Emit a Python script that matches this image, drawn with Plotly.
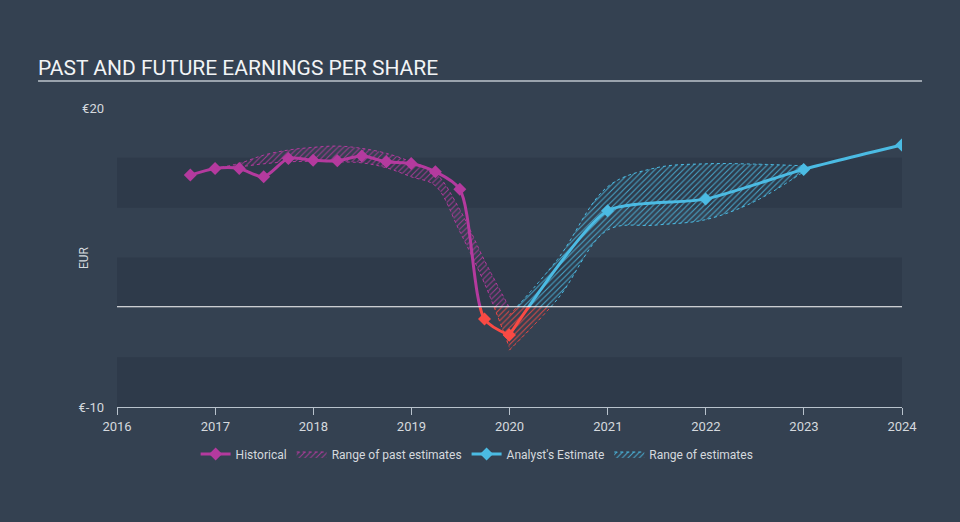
import plotly.graph_objects as go

# ---------------- data ----------------
hist_dates = ["2016-09-30", "2016-12-31", "2017-03-31", "2017-06-30", "2017-09-30",
              "2017-12-31", "2018-03-31", "2018-06-30", "2018-09-30", "2018-12-31",
              "2019-03-31", "2019-06-30", "2019-09-30", "2019-12-31"]
hist_eps = [13.27, 13.94, 13.94, 13.10, 14.94, 14.77, 14.70, 15.18, 14.60, 14.44,
            13.60, 11.84, -1.17, -2.78]

past_range_dates = ["2016-12-31", "2017-03-31", "2017-06-30", "2017-09-30", "2017-12-31",
                    "2018-03-31", "2018-06-30", "2018-09-30", "2018-12-31", "2019-03-31",
                    "2019-06-30", "2019-09-30", "2019-12-31"]
past_upper = [13.94, 14.44, 15.27, 15.78, 16.05, 16.18, 15.95, 15.45, 14.60, 13.50,
              9.80, 4.70, 0.0]
past_lower = [13.94, 14.10, 14.40, 14.60, 14.65, 14.60, 14.50, 14.00, 13.10, 12.20,
              7.60, 2.40, -4.0]

fc_dates = ["2019-12-31", "2020-12-31", "2021-12-31", "2022-12-31", "2023-12-31"]
fc_eps = [-2.78, 9.69, 10.86, 13.84, 16.28]

fc_range_dates = ["2019-12-31", "2020-06-30", "2020-12-31", "2021-06-30", "2021-12-31",
                  "2022-06-30", "2022-12-31"]
fc_upper = [-0.8, 4.9, 12.1, 14.0, 14.4, 14.37, 14.2]
fc_lower = [-4.3, 0.9, 7.75, 8.25, 8.8, 10.6, 13.6]

x_range = ["2016-01-01", "2024-01-01"]
y_top_range = [0, 20]
y_bot_range = [-10, 0]
stripes = [(10, 15, "y"), (0, 5, "y"), (-10, -5, "y2")]

# ---------------- styles ----------------
BG = "#344151"
STRIPE = "#2e3a4a"
MAGENTA = "#b43a9e"
BLUE = "#4bbbe3"
RED = "#f94a44"
TEXT = "#d5d9de"
FONT = "Roboto"

fig = go.Figure()


def add_band(dates, lower, upper, color, yaxis, name=None, show=False):
    fig.add_trace(go.Scatter(
        x=dates, y=lower, mode="lines", yaxis=yaxis,
        line=dict(color=color, width=1, dash="dot", shape="spline", smoothing=1),
        showlegend=False, hoverinfo="skip"))
    fig.add_trace(go.Scatter(
        x=dates, y=upper, mode="lines", yaxis=yaxis, fill="tonexty",
        fillcolor="rgba(0,0,0,0)",
        fillpattern=dict(shape="/", fgcolor=color, bgcolor="rgba(0,0,0,0)",
                         size=4, solidity=0.25, fgopacity=0.85),
        line=dict(color=color, width=1, dash="dot", shape="spline", smoothing=1),
        name=name, showlegend=show, hoverinfo="skip"))


def add_line(dates, vals, color, yaxis, smoothing, name=None, show=False):
    fig.add_trace(go.Scatter(
        x=dates, y=vals, mode="lines+markers", yaxis=yaxis,
        line=dict(color=color, width=3, shape="spline", smoothing=smoothing),
        marker=dict(symbol="diamond", size=10, color=color),
        name=name, showlegend=show))


# upper (positive) subplot
add_line(hist_dates, hist_eps, MAGENTA, "y", 0.8, "Historical", True)
add_band(past_range_dates, past_lower, past_upper, MAGENTA, "y", "Range of past estimates", True)
add_line(fc_dates, fc_eps, BLUE, "y", 0.6, "Analyst's Estimate", True)
add_band(fc_range_dates, fc_lower, fc_upper, BLUE, "y", "Range of estimates", True)

# lower (negative) subplot, drawn in red
add_band(past_range_dates, past_lower, past_upper, RED, "y2")
add_band(fc_range_dates, fc_lower, fc_upper, RED, "y2")
add_line(hist_dates, hist_eps, RED, "y2", 0.8)
add_line(fc_dates, fc_eps, RED, "y2", 0.6)

shapes = []
for lo, hi, ax in stripes:
    shapes.append(dict(type="rect", xref="paper", x0=0, x1=1, yref=ax, y0=lo, y1=hi,
                       fillcolor=STRIPE, line=dict(width=0), layer="below"))
shapes.append(dict(type="line", xref="paper", x0=0, x1=1, yref="y", y0=0, y1=0,
                   line=dict(color="white", width=2), layer="above"))
shapes.append(dict(type="line", xref="paper", x0=-0.1006, x1=1.0255, yref="paper",
                   y0=1.0903, y1=1.0903, line=dict(color="#9aa3ad", width=2)))

fig.update_layout(
    width=960, height=522,
    margin=dict(l=117, r=58, t=108, b=115, autoexpand=False),
    paper_bgcolor=BG, plot_bgcolor=BG,
    font=dict(family=FONT, color=TEXT, size=13),
    title=dict(text="PAST AND FUTURE EARNINGS PER SHARE", xref="container", x=0.0395,
               xanchor="left", yref="container", y=1 - 68 / 522, yanchor="middle",
               font=dict(family=FONT, size=21, color="#f2f4f6")),
    xaxis=dict(type="date", range=x_range, anchor="y2", dtick="M12", tickformat="%Y",
               showgrid=False, zeroline=False, showline=True, linecolor="#b8c2cc",
               linewidth=1, ticks="outside", ticklen=7, tickcolor="#b8c2cc",
               tickfont=dict(size=13, color=TEXT), automargin=False),
    yaxis=dict(domain=[1 / 3, 1], range=y_top_range, tickvals=[20], ticktext=["€20"],
               showgrid=False, zeroline=False, showline=False, ticks="",
               ticklabelstandoff=12, tickfont=dict(size=13, color=TEXT), automargin=False),
    yaxis2=dict(domain=[0, 1 / 3], range=y_bot_range, tickvals=[-10], ticktext=["€-10"],
                showgrid=False, zeroline=False, showline=False, ticks="",
                ticklabelstandoff=12, tickfont=dict(size=13, color=TEXT), automargin=False),
    legend=dict(orientation="h", xref="container", x=0.497, xanchor="center",
                yref="container", y=1 - 454 / 522, yanchor="middle",
                traceorder="normal",
                font=dict(size=12, color=TEXT), bgcolor="rgba(0,0,0,0)",
                itemwidth=30, tracegroupgap=0),
    shapes=shapes,
    annotations=[dict(text="EUR", xref="paper", yref="paper", x=(75 - 117) / 785,
                      y=(407 - 258) / 299, showarrow=False, textangle=-90,
                      font=dict(size=12, color=TEXT))],
    hovermode=False,
)

fig.write_html("out.html")
